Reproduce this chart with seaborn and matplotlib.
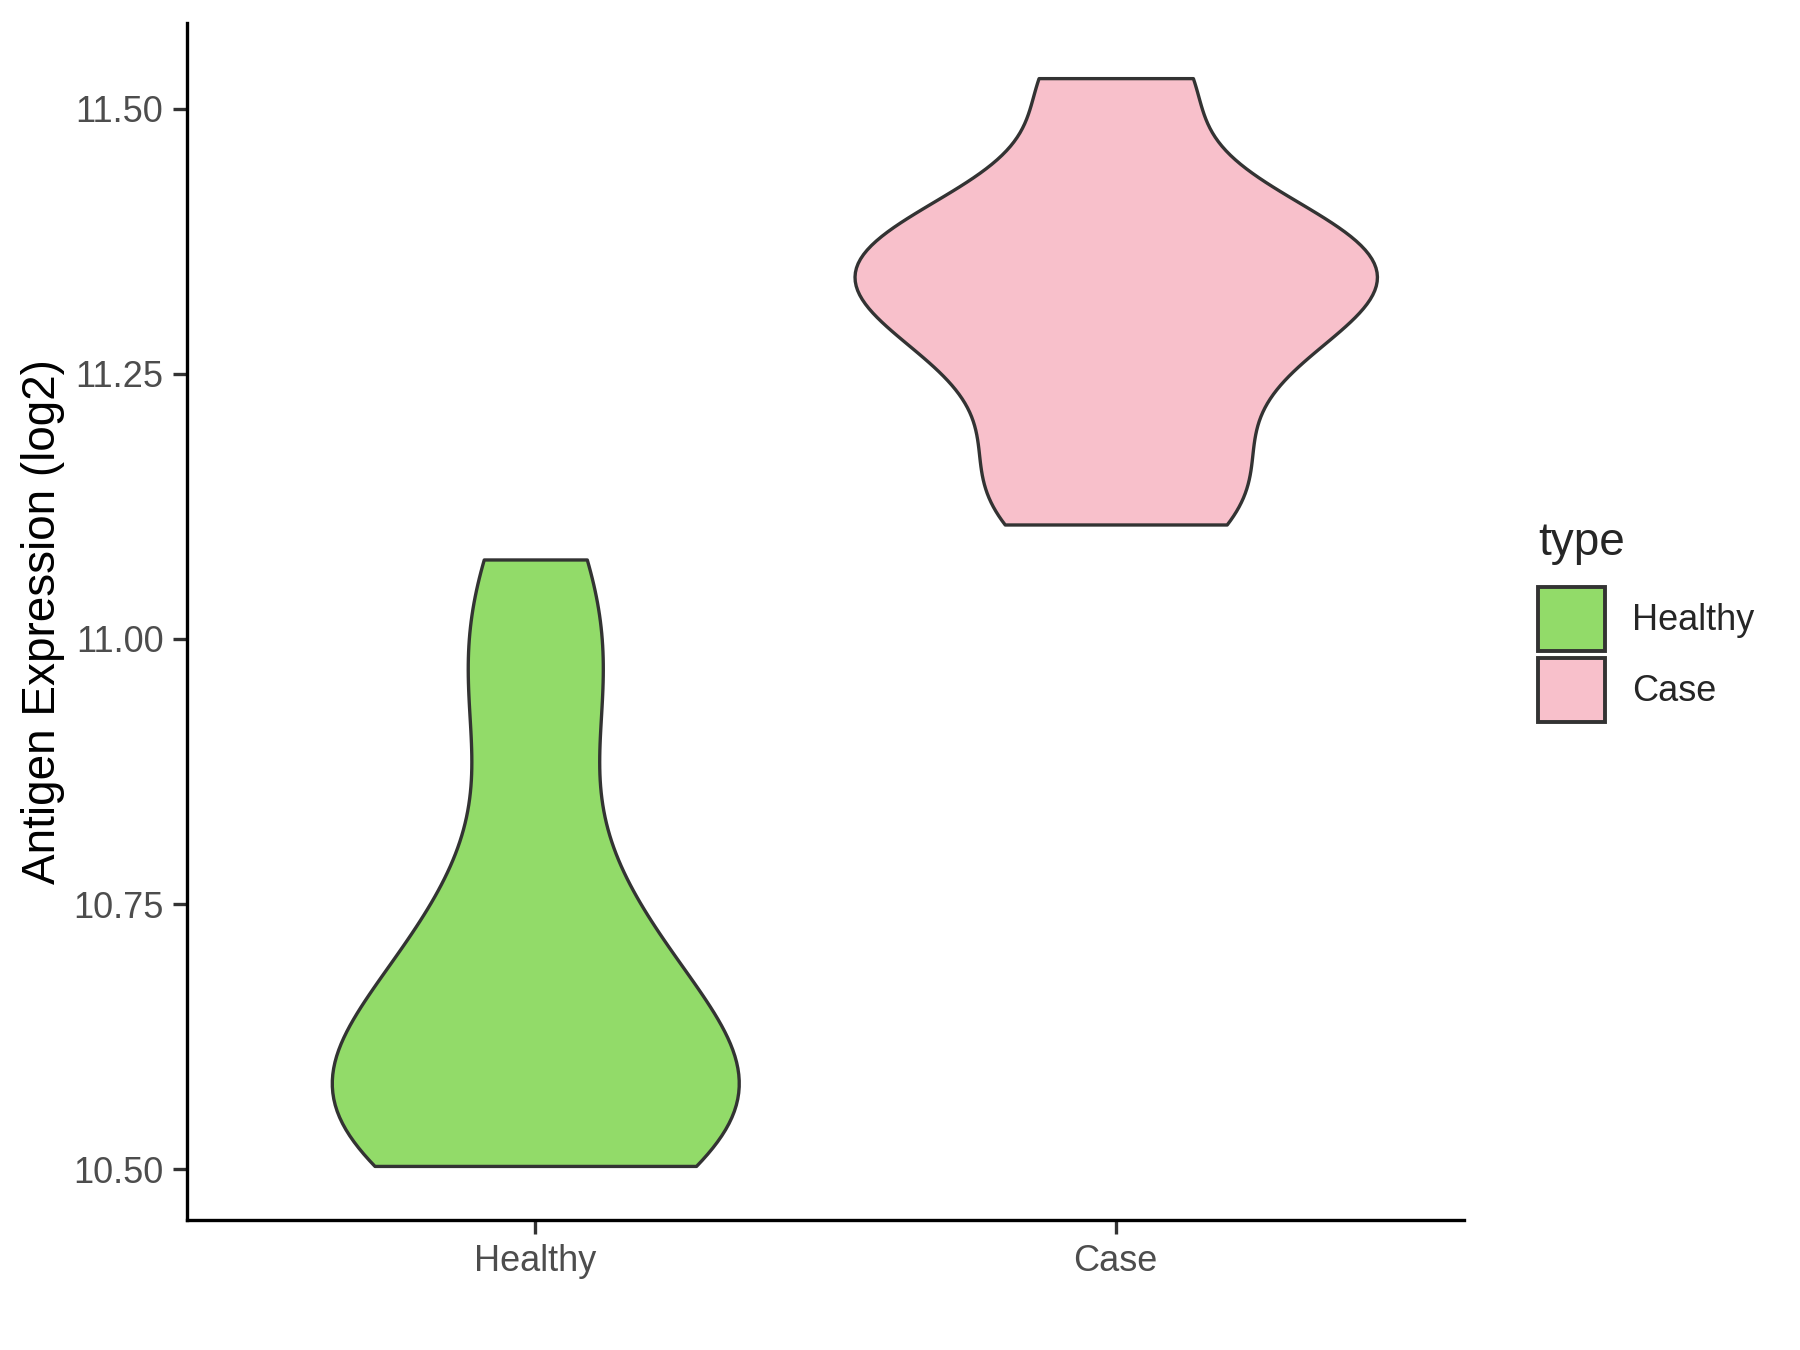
import numpy as np
import pandas as pd
import seaborn as sns
import matplotlib.pyplot as plt
from matplotlib.patches import Patch

# sample values (log2 antigen expression)
healthy = [10.503, 10.515, 10.535, 10.555, 10.575, 10.60, 10.63, 10.665, 10.715,
           10.775, 10.91, 10.99, 11.075]
case = [11.108, 11.17, 11.26, 11.31, 11.345, 11.365, 11.40, 11.529]
groups = ["Healthy", "Case"]
colors = ["#92DB69", "#F8C0CB"]
yticks = [10.50, 10.75, 11.00, 11.25, 11.50]

df = pd.DataFrame({
    "type": ["Healthy"] * len(healthy) + ["Case"] * len(case),
    "value": healthy + case,
})


def nrd0(kde):
    # R's default bandwidth (bw.nrd0) as a scipy factor
    x = kde.dataset[0]
    sd = np.std(x, ddof=1)
    iqr = np.subtract(*np.percentile(x, [75, 25]))
    lo = min(sd, iqr / 1.34)
    bw = 0.9 * lo * len(x) ** -0.2
    return bw / sd


sns.set_theme(style="ticks")
plt.rcParams["font.family"] = ["Liberation Sans", "DejaVu Sans"]

fig, ax = plt.subplots(figsize=(9, 6.75), dpi=200)
fig.subplots_adjust(left=187 / 1800, right=1464 / 1800, top=1 - 23 / 1350, bottom=1 - 1220 / 1350)

sns.violinplot(data=df, x="type", y="value", hue="type", order=groups, hue_order=groups,
               palette=colors, cut=0, inner=None, density_norm="area", common_norm=True,
               width=0.9, bw_method=nrd0, linecolor="#333333", linewidth=1.2,
               saturation=1, legend=False, ax=ax)

ax.set_ylim(10.452, 11.581)
ax.set_xlim(-0.6, 1.6)
ax.set_yticks(yticks)
ax.set_yticklabels([f"{t:.2f}" for t in yticks])
ax.set_xlabel("")
ax.set_ylabel("Antigen Expression (log2)", fontsize=16.5, color="black", labelpad=3)
ax.tick_params(axis="both", labelsize=13, labelcolor="#4D4D4D", color="#333333",
               length=5, width=1.2)
for s in ["left", "bottom"]:
    ax.spines[s].set_linewidth(1.2)
    ax.spines[s].set_color("black")
sns.despine(ax=ax)

handles = [Patch(facecolor=c, edgecolor="#333333", linewidth=1.4, label=g)
           for g, c in zip(groups, colors)]
leg = ax.legend(handles=handles, loc="center left", bbox_to_anchor=(1.047, 0.5),
                frameon=False, title="type", fontsize=13, title_fontsize=16.5,
                handlelength=1.85, handleheight=2.35, labelspacing=0.2,
                handletextpad=0.75, borderaxespad=0)
leg._legend_box.align = "left"
leg._legend_box.sep = 8

fig.savefig("out.png", dpi=200)
